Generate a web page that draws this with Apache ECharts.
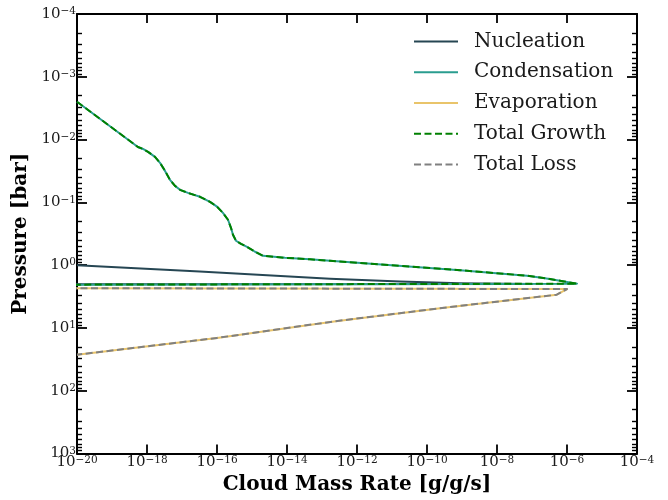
<!DOCTYPE html>
<html>
<head>
<meta charset="utf-8">
<script src="https://cdn.jsdelivr.net/npm/echarts@6/dist/echarts.min.js"></script>
<style>
  html, body { margin: 0; padding: 0; background: #ffffff; }
  #chart { width: 668px; height: 500px; }
</style>
</head>
<body>
<div id="chart"></div>
<script>
// Cloud mass rates [g/g/s] against pressure [bar], one profile per process.
// Points are listed in order of increasing pressure; a rate far below the
// axis range marks where a process switches off.
const nucleationRate     = [1e-20, 3.2e-17, 1.7e-13, 1.7e-11, 8.7e-10, 1e-7, 1e-22];
const nucleationPressure = [1.0,   1.26,    1.64,    1.82,    1.94,    2.0,  2.02];

const condensationRate = [
  1e-20, 5.5e-19, 7.69e-19, 1.07e-18, 1.69e-18, 2.35e-18, 3.27e-18, 4.54e-18,
  6.31e-18, 8.77e-18, 1.48e-17, 3.27e-17, 6.31e-17, 1.0e-16, 1.48e-16,
  2.06e-16, 2.51e-16, 2.86e-16, 3.49e-16, 4.85e-16, 7.2e-16, 1.22e-15,
  2.06e-15, 8.77e-15, 4.54e-14, 1.69e-13, 8.77e-10, 7.2e-8, 2.35e-7,
  6.3e-7, 1.93e-6, 1e-22
];
const condensationPressure = [
  2.5e-3, 1.31e-2, 1.41e-2, 1.57e-2, 1.88e-2, 2.34e-2, 3.15e-2, 4.38e-2,
  5.45e-2, 6.31e-2, 7.05e-2, 8.15e-2, 9.79e-2, 0.117, 0.147,
  0.189, 0.254, 0.328, 0.408, 0.456, 0.509, 0.611,
  0.708, 0.762, 0.805, 0.849, 1.2, 1.47, 1.61,
  1.77, 1.97, 2.05
];

const evaporationRate     = [1e-22, 1.0e-6, 5.1e-7, 3.1e-10, 2.2e-13, 1.0e-16, 1e-20];
const evaporationPressure = [2.31,  2.40,   2.95,   4.75,    7.85,    14.4,    26.6];

// Totals coincide with the dominant process on each side.
const totalGrowthRate = condensationRate;
const totalGrowthPressure = condensationPressure;
const totalLossRate = evaporationRate;
const totalLossPressure = evaporationPressure;

// Tick labels (powers of ten).
const xTickExponents = [-20, -18, -16, -14, -12, -10, -8, -6, -4];
const yTickExponents = [-4, -3, -2, -1, 0, 1, 2, 3];

const FONT = 'DejaVu Serif';
const INK = '#1a1a1a';

function toLogPairs(rates, pressures) {
  return rates.map((r, i) => [Math.log10(r), Math.log10(pressures[i])]);
}

function powerLabel(v) {
  const e = Math.round(v);
  const s = e < 0 ? '\u2212' + Math.abs(e) : String(e);
  return '{b|10}{s|' + s + '}';
}

const labelRich = {
  b: { fontFamily: FONT, fontSize: 15, color: INK, lineHeight: 16 },
  s: { fontFamily: FONT, fontSize: 10.5, color: INK, lineHeight: 11, verticalAlign: 'top' }
};

// Minor ticks at 2..9 times each decade (log space).
const yMinor = [];
for (let n = yTickExponents[0]; n < yTickExponents[yTickExponents.length - 1]; n++) {
  for (let k = 2; k <= 9; k++) yMinor.push(n + Math.log10(k));
}

const frame = { show: true, onZero: false, lineStyle: { color: '#000', width: 2 } };
const xMin = xTickExponents[0], xMax = xTickExponents[xTickExponents.length - 1];
const yMin = yTickExponents[0], yMax = yTickExponents[yTickExponents.length - 1];

function yAxisDef(position, minor) {
  return {
    type: 'value', position: position, inverse: true,
    min: yMin, max: yMax, interval: 1,
    axisLine: minor ? { show: false } : frame,
    splitLine: { show: false },
    axisTick: minor
      ? { show: true, inside: true, length: 5, customValues: yMinor, lineStyle: { color: '#000', width: 1.4 } }
      : { show: true, inside: true, length: 10, lineStyle: { color: '#000', width: 1.8 } },
    axisLabel: (position === 'left' && !minor)
      ? { show: true, margin: 1, formatter: powerLabel, rich: labelRich }
      : { show: false },
    name: (position === 'left' && !minor) ? 'Pressure [bar]' : '',
    nameLocation: 'middle', nameRotate: 90, nameGap: 39,
    nameTextStyle: { fontFamily: FONT, fontSize: 20, fontWeight: 'bold', color: '#000' }
  };
}

function xAxisDef(position) {
  return {
    type: 'value', position: position,
    min: xMin, max: xMax, interval: 2,
    axisLine: frame,
    splitLine: { show: false },
    axisTick: { show: true, inside: true, length: 9, lineStyle: { color: '#000', width: 1.8 } },
    axisLabel: position === 'bottom'
      ? { show: true, margin: 1, formatter: powerLabel, rich: labelRich }
      : { show: false },
    name: position === 'bottom' ? 'Cloud Mass Rate [g/g/s]' : '',
    nameLocation: 'middle', nameGap: 21,
    nameTextStyle: { fontFamily: FONT, fontSize: 20, fontWeight: 'bold', color: '#000' }
  };
}

function lineSeries(name, rates, pressures, color, dashed) {
  return {
    name: name, type: 'line',
    data: toLogPairs(rates, pressures),
    symbol: 'none', clip: true,
    lineStyle: { color: color, width: 2, type: dashed ? [7, 3.5] : 'solid', join: 'round' },
    itemStyle: { color: color },
    emphasis: { disabled: true }
  };
}

const chart = echarts.init(document.getElementById('chart'), null, { renderer: 'canvas' });
chart.setOption({
  animation: false,
  backgroundColor: '#ffffff',
  grid: { left: 77, right: 31, top: 14, bottom: 46, containLabel: false },
  xAxis: [xAxisDef('bottom'), xAxisDef('top')],
  yAxis: [yAxisDef('left', false), yAxisDef('left', true), yAxisDef('right', false), yAxisDef('right', true)],
  legend: {
    orient: 'vertical', left: 413, top: 31.5, padding: 0,
    itemWidth: 44, itemHeight: 14, itemGap: 10.75,
    itemStyle: { opacity: 0 },
    textStyle: { fontFamily: FONT, fontSize: 20, color: INK, lineHeight: 20, padding: [0, 0, 0, 11] },
    data: ['Nucleation', 'Condensation', 'Evaporation', 'Total Growth', 'Total Loss']
  },
  series: [
    lineSeries('Nucleation', nucleationRate, nucleationPressure, '#264653', false),
    lineSeries('Condensation', condensationRate, condensationPressure, '#2a9d8f', false),
    lineSeries('Evaporation', evaporationRate, evaporationPressure, '#e9c46a', false),
    lineSeries('Total Growth', totalGrowthRate, totalGrowthPressure, '#008000', true),
    lineSeries('Total Loss', totalLossRate, totalLossPressure, '#808080', true)
  ]
});
</script>
</body>
</html>
